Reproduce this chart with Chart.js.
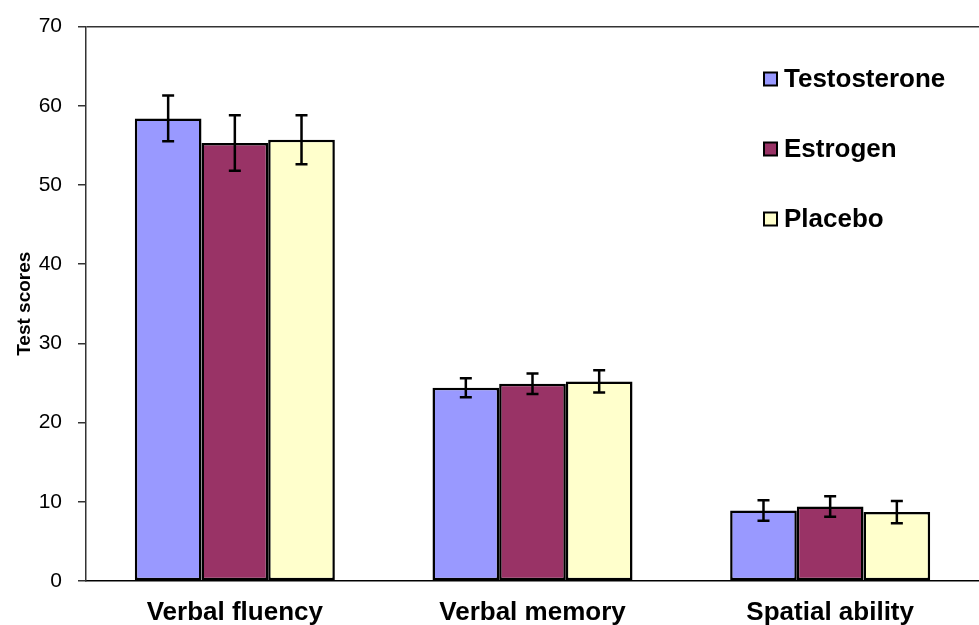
<!DOCTYPE html>
<html>
<head>
<meta charset="utf-8">
<script src="https://cdn.jsdelivr.net/npm/chart.js@4/dist/chart.umd.min.js"></script>
<style>
  html, body { margin: 0; padding: 0; background: #fff; }
  #wrap { width: 979px; height: 625px; }
</style>
</head>
<body>
<div id="wrap"><canvas id="c" width="979" height="625"></canvas></div>
<script>
const categories = ["Verbal fluency", "Verbal memory", "Spatial ability"];
const seriesNames = ["Testosterone", "Estrogen", "Placebo"];
const testosterone = [58.4, 24.4, 8.9];
const estrogen = [55.3, 24.9, 9.4];
const placebo = [55.7, 25.2, 8.7];
const testosteroneErr = [2.9, 1.2, 1.3];
const estrogenErr = [3.5, 1.3, 1.3];
const placeboErr = [3.1, 1.4, 1.4];
const yTicks = [0, 10, 20, 30, 40, 50, 60, 70];
const colors = ["#9999FF", "#993366", "#FFFFCC"];

const FONT = "'Liberation Sans', Arial, sans-serif";

const errorBarPlugin = {
  id: 'errorBars',
  afterDatasetsDraw(chart) {
    const ctx = chart.ctx;
    const y = chart.scales.y;
    ctx.save();
    ctx.strokeStyle = '#000';
    ctx.lineWidth = 2.5;
    chart.data.datasets.forEach((ds, di) => {
      const meta = chart.getDatasetMeta(di);
      meta.data.forEach((bar, i) => {
        const v = ds.data[i], e = ds.errors[i];
        const x = bar.x;
        const yt = y.getPixelForValue(v + e);
        const yb = y.getPixelForValue(v - e);
        ctx.beginPath();
        ctx.moveTo(x, yt); ctx.lineTo(x, yb);
        ctx.moveTo(x - 6, yt); ctx.lineTo(x + 6, yt);
        ctx.moveTo(x - 6, yb); ctx.lineTo(x + 6, yb);
        ctx.stroke();
      });
    });
    ctx.restore();
  }
};

const legendPlugin = {
  id: 'customLegend',
  afterDraw(chart) {
    const ctx = chart.ctx;
    ctx.save();
    ctx.font = "bold 26px " + FONT;
    ctx.textBaseline = 'middle';
    ctx.textAlign = 'left';
    chart.data.datasets.forEach((ds, i) => {
      const cy = 79 + i * 70;
      ctx.fillStyle = ds.backgroundColor;
      ctx.fillRect(764, cy - 6.5, 13, 13);
      ctx.strokeStyle = '#000';
      ctx.lineWidth = 2;
      ctx.strokeRect(764, cy - 6.5, 13, 13);
      ctx.fillStyle = '#000';
      ctx.fillText(ds.label, 784, cy + 1);
    });
    ctx.restore();
  }
};

new Chart(document.getElementById('c'), {
  type: 'bar',
  data: {
    labels: categories,
    datasets: [
      { label: seriesNames[0], data: testosterone, errors: testosteroneErr, backgroundColor: colors[0] },
      { label: seriesNames[1], data: estrogen, errors: estrogenErr, backgroundColor: colors[1] },
      { label: seriesNames[2], data: placebo, errors: placeboErr, backgroundColor: colors[2] }
    ].map(d => Object.assign(d, { borderColor: '#000', borderWidth: 2.5, borderSkipped: false }))
  },
  options: {
    responsive: false,
    animation: false,
    devicePixelRatio: 1,
    layout: { padding: { left: 9, top: 25, right: 0, bottom: 0 } },
    datasets: { bar: { barPercentage: 1, categoryPercentage: 0.672 } },
    plugins: {
      legend: { display: false },
      tooltip: { enabled: false }
    },
    scales: {
      x: {
        grid: { display: false, drawTicks: false },
        border: { display: true, color: '#000', width: 1.5 },
        ticks: { color: '#000', font: { family: FONT, size: 26, weight: 'bold' }, padding: 16 },
        afterFit(scale) { scale.height = 44; }
      },
      y: {
        min: 0, max: 70,
        afterBuildTicks(scale) { scale.ticks = yTicks.map(v => ({ value: v })); },
        afterFit(scale) { scale.width = 77; },
        grid: {
          color: (c) => (c.tick && c.tick.value === 70) ? '#333' : 'rgba(0,0,0,0)',
          lineWidth: 1.5,
          tickColor: '#333',
          tickLength: 8,
          drawOnChartArea: true
        },
        border: { display: true, color: '#333', width: 1.5 },
        ticks: { color: '#000', font: { family: FONT, size: 21, lineHeight: 1 }, padding: 16 },
        title: {
          display: true, text: 'Test scores', color: '#000',
          font: { family: FONT, size: 19, weight: 'bold' }, padding: 4
        }
      }
    }
  },
  plugins: [errorBarPlugin, legendPlugin]
});
</script>
</body>
</html>
